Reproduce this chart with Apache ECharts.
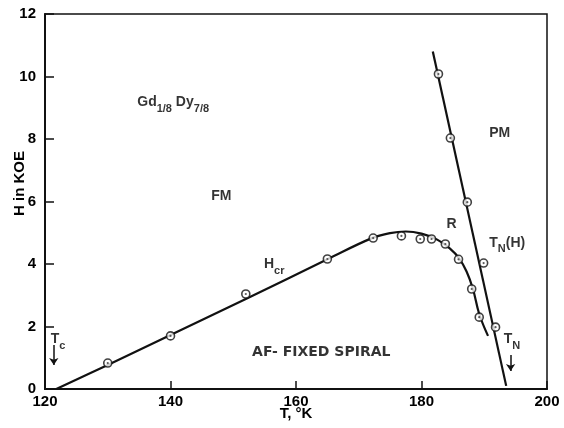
<!DOCTYPE html>
<html>
<head>
<meta charset="utf-8">
<script src="https://cdn.jsdelivr.net/npm/echarts@6/dist/echarts.min.js"></script>
<style>html,body{margin:0;padding:0;background:#fff}#c{width:564px;height:428px}</style>
</head>
<body>
<div id="c"></div>
<script>
// Axis ticks
var xTicks = [120, 140, 160, 180, 200];
var yTicks = [0, 2, 4, 6, 8, 10, 12];

// Measured H_cr points (T in K, H in kOe)
var hcrT = [130, 140, 152, 165, 172.3, 176.8, 179.8, 181.6, 183.8, 185.9, 188, 189.2];
var hcrH = [0.83, 1.7, 3.04, 4.16, 4.83, 4.9, 4.8, 4.8, 4.64, 4.15, 3.2, 2.3];

// Drawn H_cr curve
var curveT = [121.8, 130, 140, 152, 165, 172, 175, 177.5, 180, 182.5, 184.5, 186, 187.2, 188.2, 189.2, 190.6];
var curveH = [0, 0.77, 1.73, 2.88, 4.15, 4.82, 4.99, 5.04, 4.97, 4.78, 4.5, 4.18, 3.75, 3.2, 2.4, 1.7];

// Measured T_N(H) points
var tnT = [182.7, 184.6, 187.3, 189.9, 191.8];
var tnH = [10.08, 8.03, 5.98, 4.03, 1.98];

// Drawn T_N(H) line ends
var tnLineT = [181.8, 193.5];
var tnLineH = [10.8, 0.1];

// Region labels
var labelT = [134.7, 146.5, 154.9, 184.0, 190.8, 190.8, 153.0, 193.1, 120.9];
var labelH = [9.1, 6.18, 3.9, 5.28, 8.19, 4.6, 1.18, 1.5, 1.5];
var labelText = ['{m|Gd}{s|1/8}{m| Dy}{s|7/8}', '{n|FM}', '{m|H}{s|cr}', '{n|R}', '{n|PM}', '{m|T}{s|N}{m|(H)}', '{a|AF- FIXED SPIRAL}', '{m|T}{s|N}', '{m|T}{s|c}'];

// Arrows
var arrowT = [121.4, 194.2];
var arrowH0 = [1.41, 1.09];
var arrowH1 = [0.77, 0.58];

function zip(a, b) { return a.map(function (v, i) { return [v, b[i]]; }); }

var chart = echarts.init(document.getElementById('c'), null, {renderer: 'canvas'});
var FONT = 'Liberation Sans';
var INK = '#000';
var rich = {
  m: {fontFamily: FONT, fontWeight: 'bold', fontSize: 14, color: INK, lineHeight: 19, verticalAlign: 'top'},
  n: {fontFamily: FONT, fontWeight: 'bold', fontSize: 14, color: INK, lineHeight: 16},
  s: {fontFamily: FONT, fontWeight: 'bold', fontSize: 11, color: INK, lineHeight: 19, verticalAlign: 'bottom'},
  a: {fontFamily: 'DejaVu Sans', fontWeight: 'bold', fontSize: 14, color: INK, lineHeight: 18}
};

chart.setOption({
  animation: false,
  backgroundColor: '#fff',
  grid: {left: 45, right: 17, top: 14, bottom: 39, show: true, borderColor: '#111', borderWidth: 1.5,
         containLabel: false, outerBoundsMode: 'none'},
  xAxis: {
    type: 'value', min: 120, max: 200, interval: 20,
    name: 'T, °K', nameLocation: 'middle', nameGap: 17, nameMoveOverlap: false,
    nameTextStyle: {fontFamily: FONT, fontWeight: 'bold', fontSize: 15, color: INK},
    axisLine: {show: true, lineStyle: {color: '#111', width: 2}},
    axisTick: {show: true, inside: true, length: 8, lineStyle: {color: '#111', width: 1.5}},
    axisLabel: {fontFamily: FONT, fontWeight: 'bold', fontSize: 15, color: INK, margin: 5},
    splitLine: {show: false}
  },
  yAxis: {
    type: 'value', min: 0, max: 12, interval: 2,
    name: 'H in KOE', nameLocation: 'middle', nameGap: 18, nameRotate: 90, nameMoveOverlap: false,
    nameTextStyle: {fontFamily: FONT, fontWeight: 'bold', fontSize: 15, color: INK, padding: [0, 0, 0, 36]},
    axisLine: {show: true, lineStyle: {color: '#111', width: 2}},
    axisTick: {show: true, inside: true, length: 9, lineStyle: {color: '#111', width: 1.5}},
    axisLabel: {fontFamily: FONT, fontWeight: 'bold', fontSize: 15, color: INK, margin: 9},
    splitLine: {show: false}
  },
  series: [
    {type: 'line', data: zip(curveT, curveH), smooth: 0.4, symbol: 'none',
     lineStyle: {color: '#111', width: 2.2}, z: 2},
    {type: 'line', data: zip(tnLineT, tnLineH), symbol: 'none',
     lineStyle: {color: '#111', width: 2.2}, z: 2},
    {type: 'scatter', data: zip(hcrT, hcrH).concat(zip(tnT, tnH)), symbol: 'circle', symbolSize: 8,
     itemStyle: {color: '#fff', borderColor: '#111', borderWidth: 1.6}, z: 3},
    {type: 'scatter', data: zip(hcrT, hcrH).concat(zip(tnT, tnH)), symbol: 'circle', symbolSize: 2.2,
     itemStyle: {color: '#333'}, z: 4},
    {type: 'scatter', symbolSize: 0, z: 5,
     data: labelT.map(function (t, i) { return {value: [t, labelH[i]], name: labelText[i]}; }),
     label: {show: true, position: 'right', distance: 0, formatter: function (p) { return p.name; }, rich: rich}},
    {type: 'lines', coordinateSystem: 'cartesian2d', polyline: false,
     symbol: ['none', 'arrow'], symbolSize: 7,
     lineStyle: {color: '#111', width: 1.5, opacity: 1},
     data: arrowT.map(function (t, i) { return {coords: [[t, arrowH0[i]], [t, arrowH1[i]]]}; }), z: 5}
  ]
});
</script>
</body>
</html>
